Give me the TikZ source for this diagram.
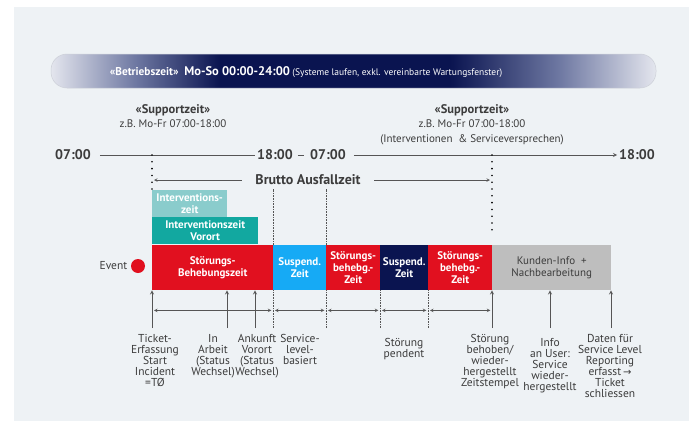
\documentclass[tikz,border=0pt]{standalone}
\usepackage{fontspec}
\setmainfont{PT Sans}
\newfontfamily\arrowfont{DejaVu Sans}
\usepackage{tikz}
\usetikzlibrary{arrows.meta}
\definecolor{panel}{RGB}{238, 242, 245}
\definecolor{navy}{RGB}{10, 20, 80}
\definecolor{bnmid}{RGB}{110, 120, 162}
\definecolor{bnlight}{RGB}{228, 230, 238}
\definecolor{stred}{RGB}{225, 16, 31}
\definecolor{susp}{RGB}{22, 170, 245}
\definecolor{tealA}{RGB}{138, 204, 204}
\definecolor{tealB}{RGB}{18, 168, 160}
\definecolor{post}{RGB}{190, 190, 190}
\definecolor{ink}{RGB}{60, 60, 60}
\definecolor{rule}{RGB}{85, 85, 85}
\pgfdeclarehorizontalshading{bannershade}{100bp}{color(0bp)=(bnlight); color(25bp)=(bnlight);
  color(32bp)=(bnmid); color(39bp)=(navy); color(58bp)=(navy); color(67bp)=(bnmid);
  color(75bp)=(bnlight); color(100bp)=(bnlight)}

\begin{document}
\begin{tikzpicture}[x=1pt, y=-1pt,
   bar/.style={rectangle, anchor=north west, inner sep=0, minimum height=45,
               text=white, align=center, font=\fontsize{11}{11.8}\selectfont\bfseries},
   ibox/.style={rectangle, anchor=north west, inner sep=0, text=white, align=center,
                font=\fontsize{11}{11.5}\selectfont\bfseries},
   time/.style={text=ink, inner sep=2, font=\fontsize{14}{16}\selectfont\bfseries},
   support/.style={text=ink, anchor=north, align=center, inner sep=0,
                   font=\fontsize{11}{14.5}\selectfont},
   note/.style={text=ink, anchor=north, align=center, inner sep=0,
                font=\fontsize{11.5}{11}\selectfont},
   axis/.style={draw=rule, line width=0.8},
   dots/.style={draw=black, line width=1.8, line cap=round, dash pattern=on 0pt off 6.8pt},
   fine/.style={draw=rule, line width=0.6, dash pattern=on 0.8pt off 0.8pt},
   dim/.style={<->, >=stealth, draw=rule, line width=0.6, shorten <=2, shorten >=2},
   up/.style={->, >=stealth, draw=rule, line width=0.8}
  ]

  \useasboundingbox (0, 0) rectangle (689, 421);
  \fill[panel] (14, 7) rectangle (689, 421);

  \node (BZ) at (353.5, 71) [rectangle, rounded corners=16, shading=bannershade,
        draw={rgb,255:red,205;green,208;blue,216}, line width=0.5,
        minimum width=605, minimum height=34] {};
  \node (BT) at (306, 72) [text=white, inner sep=0]
        {\fontsize{11.3}{13}\selectfont\bfseries «Betriebszeit»\ \ {\fontsize{12.5}{14}\selectfont Mo-So 00:00-24:00}\mdseries\fontsize{9.5}{11}\selectfont\ (Systeme laufen, exkl. vereinbarte Wartungsfenster)};

  \node (SZ1) at (173, 104) [support]
        {{\fontsize{12.5}{14.5}\selectfont\bfseries «Supportzeit»}\\z.B. Mo-Fr 07:00-18:00};
  \node (SZ2) at (472, 104) [support]
        {{\fontsize{12.5}{14.5}\selectfont\bfseries «Supportzeit»}\\z.B. Mo-Fr 07:00-18:00\\(Interventionen \ \& Serviceversprechen)};

  \node (T1) at (73, 155) [time] {07:00};
  \node (T2) at (275, 155) [time] {18:00};
  \node (T3) at (328, 155) [time] {07:00};
  \node (T4) at (637, 155) [time] {18:00};
  \draw[axis, shorten <=7] (T1) -- (T2);
  \draw[axis, shorten <=3, shorten >=4.5] (T2) -- (T3);
  \draw[axis, ->, >=stealth, shorten <=6] (T3) -- (T4);

  \coordinate (SL) at (152, 155);
  \coordinate (SR) at (492, 155);

  \node (BR) at (308, 180) [text=ink, font=\fontsize{14}{16}\selectfont\bfseries] {Brutto Ausfallzeit};

  \node (I1) at (152, 190) [ibox, fill=tealA, minimum width=75, minimum height=27] {Interventions-\\zeit};
  \node (I2) at (152, 217) [ibox, fill=tealB, minimum width=106, minimum height=27] {Interventionszeit\\Vorort};

  \node (R1) at (152, 245) [bar, fill=stred, minimum width=121] {Störungs-\\Behebungszeit};
  \node (R2) at (273, 245) [bar, fill=susp, minimum width=53] {Suspend.\\Zeit};
  \node (R3) at (326, 245) [bar, fill=stred, minimum width=54] {Störungs-\\behebg.-\\Zeit};
  \node (R4) at (380, 245) [bar, fill=navy, minimum width=48] {Suspend.\\Zeit};
  \node (R5) at (428, 245) [bar, fill=stred, minimum width=64] {Störungs-\\behebg.-\\Zeit};
  \node (R6) at (492, 245) [bar, fill=post, minimum width=119, text=ink, font=\fontsize{11}{12.5}\selectfont] {Kunden-Info \ +\\Nachbearbeitung};

  \node (EV) at (138, 266) [circle, fill=stred, minimum size=14, inner sep=0] {};
  \node (EVT) at (EV.west) [anchor=east, text=ink, font=\fontsize{11.5}{13}\selectfont] {Event};

  % support time and gross outage
  \draw[dots] (SL) -- (I1.north west);
  \draw[dots, shorten >=11] (SR) -- (SR |- R5.north);
  \draw[->, >=stealth, draw=rule, line width=0.6, shorten <=10] (BR.west) -- ([xshift=2]BR.west -| SL);
  \draw[->, >=stealth, draw=rule, line width=0.6, shorten <=10] (BR.east) -- ([xshift=-2]BR.east -| SR);

  \foreach \B in {R1, R2} {
    \draw[fine] (\B.north east) -- (\B.north east |- BR.south);
  }
  \foreach \B in {R1, R2, R3, R4} {
    \draw[fine] (\B.south east) -- ++(0, 37);
  }
  \foreach \B in {R1, R2, R3, R4, R5} {
    \draw[dim] ([yshift=-20]\B.south west) -- ([yshift=-20]\B.south east);
  }

  \coordinate (A1) at (152, 328);
  \coordinate (A2) at (227, 328);
  \coordinate (A3) at (255, 328);
  \coordinate (A4) at (492, 328);
  \coordinate (A5) at (550, 328);
  \coordinate (A6) at (611, 328);
  \foreach \A in {A1, A2, A3, A4, A5, A6} {
    \draw[up] (\A) -- (\A |- R1.south);
  }

  \node (L1) at (155, 334) [note] {Ticket-\\Erfassung\\Start\\Incident\\=TØ};
  \node (L2) at (213, 334) [note] {In\\Arbeit\\(Status\\Wechsel)};
  \node (L3) at (257, 334) [note] {Ankunft\\Vorort\\(Status\\Wechsel)};
  \node (L4) at (300, 334) [note] {Service-\\level-\\basiert};
  \node (L5) at (404, 338) [note] {Störung\\pendent};
  \node (L6) at (490, 334) [note] {Störung\\behoben/\\wieder-\\hergestellt\\Zeitstempel};
  \node (L7) at (550, 338) [note] {Info\\an User:\\Service\\wieder-\\hergestellt};
  \node (L8) at (610, 334) [note] {Daten für\\Service Level\\Reporting\\erfasst\,{\arrowfont\fontsize{10}{11}\selectfont →}\\Ticket\\schliessen};

\end{tikzpicture}
\end{document}
